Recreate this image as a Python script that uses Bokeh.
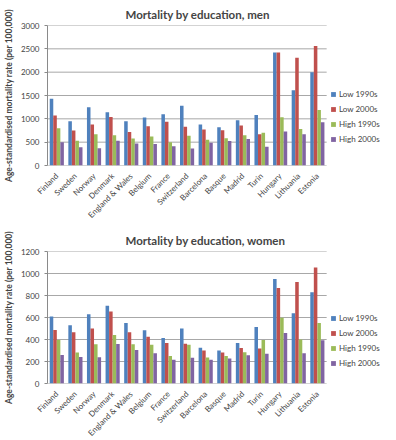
import math
from bokeh.plotting import figure
from bokeh.models import (ColumnDataSource, FixedTicker, Legend, LegendItem, Range1d, FactorRange, Label)
from bokeh.transform import dodge
from bokeh.layouts import column
from bokeh.embed import file_html
from bokeh.resources import INLINE

countries = ["Finland", "Sweden", "Norway", "Denmark", "England & Wales", "Belgium", "France",
             "Switzerland", "Barcelona", "Basque", "Madrid", "Turin", "Hungary", "Lithuania", "Estonia"]
series = ["Low 1990s", "Low 2000s", "High 1990s", "High 2000s"]

men_low_1990s = [1430, 950, 1250, 1140, 950, 1030, 1100, 1280, 880, 820, 970, 1080, 2420, 1610, 2000]
men_low_2000s = [1070, 750, 880, 1040, 720, 840, 940, 830, 770, 755, 855, 670, 2420, 2310, 2560]
men_high_1990s = [800, 530, 670, 650, 580, 620, 500, 640, 550, 585, 650, 700, 1035, 780, 1190]
men_high_2000s = [500, 390, 370, 530, 470, 460, 410, 365, 485, 525, 570, 400, 730, 670, 925]
men_ticks = [0, 500, 1000, 1500, 2000, 2500, 3000]

women_low_1990s = [610, 530, 630, 707, 550, 484, 413, 501, 325, 299, 368, 513, 949, 638, 829]
women_low_2000s = [487, 467, 501, 655, 467, 424, 368, 362, 299, 282, 322, 319, 869, 923, 1054]
women_high_1990s = [396, 282, 356, 442, 356, 353, 251, 353, 236, 251, 285, 396, 598, 399, 550]
women_high_2000s = [259, 242, 239, 359, 305, 274, 217, 234, 217, 228, 256, 271, 459, 274, 393]
women_ticks = [0, 200, 400, 600, 800, 1000, 1200]

colors = ["#4F81BD", "#C0504D", "#9BBB59", "#8064A2"]
FONT = "Lato"
FRAME_W = 335
LEFT = 40
legend_space = [" ", "  ", "   "]   # empty slots at the right of the frame that hold the legend


def make_panel(title, letter, vals, ticks, frame_h, leg_y):
    src = ColumnDataSource(dict(country=countries, s0=vals[0], s1=vals[1], s2=vals[2], s3=vals[3]))
    xr = FactorRange(*(countries + legend_space))
    p = figure(x_range=xr, y_range=Range1d(ticks[0], ticks[-1]), frame_width=FRAME_W, frame_height=frame_h,
               output_backend="svg", toolbar_location=None, title=title,
               min_border_left=LEFT, min_border_right=2, min_border_top=2)
    # horizontal grid lines, only under the country groups
    gsrc = ColumnDataSource(dict(x0=[countries[0]] * len(ticks), x1=[countries[-1]] * len(ticks), y=ticks))
    p.segment(x0=dodge("x0", -0.5, range=xr), x1=dodge("x1", 0.5, range=xr), y0="y", y1="y",
              source=gsrc, line_color="#A8A8A8", line_width=1)
    offs = [-0.285, -0.095, 0.095, 0.285]
    items = []
    for i, key in enumerate(["s0", "s1", "s2", "s3"]):
        r = p.vbar(x=dodge("country", offs[i], range=xr), top=key, width=0.19, source=src,
                   fill_color=colors[i], line_color=None)
        items.append(LegendItem(label=series[i], renderers=[r]))
    leg = Legend(items=items, location=(FRAME_W - 52, leg_y))
    leg.label_text_font = FONT
    leg.label_text_font_size = "8px"
    leg.glyph_width = 6
    leg.glyph_height = 6
    leg.label_height = 10
    leg.label_standoff = 3
    leg.spacing = 5
    leg.padding = 0
    leg.margin = 0
    leg.border_line_color = None
    leg.background_fill_alpha = 0
    p.add_layout(leg)
    p.title.text_font = FONT
    p.title.text_font_size = "11.5px"
    p.title.align = "left"
    p.title.offset = 78
    p.outline_line_color = None
    p.yaxis.ticker = FixedTicker(ticks=ticks)
    p.yaxis.axis_label = "Age-standardised mortality rate (per 100,000)"
    p.yaxis.axis_label_text_font = FONT
    p.yaxis.axis_label_text_font_size = "8.5px"
    p.yaxis.axis_label_text_font_style = "bold"
    p.yaxis.axis_label_standoff = 4
    p.yaxis.major_label_text_font = FONT
    p.xaxis.major_label_text_font = FONT
    p.yaxis.major_label_text_font_size = "8px"
    p.xaxis.major_label_text_font_size = "8px"
    p.xaxis.major_label_orientation = math.pi / 4
    p.xaxis.major_label_standoff = 3
    p.xaxis.major_tick_line_color = None
    p.xaxis.axis_line_color = None
    p.yaxis.axis_line_color = "#8A8A8A"
    p.yaxis.major_tick_line_color = "#8A8A8A"
    p.yaxis.major_tick_in = 0
    p.yaxis.major_tick_out = 3
    p.yaxis.minor_tick_line_color = None
    p.xgrid.grid_line_color = None
    p.ygrid.grid_line_color = None
    # panel letter, placed left of the y axis and above the frame
    px_per_unit = FRAME_W / len(xr.factors)
    lab = Label(x=-(LEFT - 1) / px_per_unit, y=ticks[-1] * (1 + 10 / frame_h), text=letter,
                text_font=FONT, text_font_size="9px", text_color="#333333", text_baseline="middle")
    p.add_layout(lab)
    return p


p1 = make_panel("Mortality by education, men", "A",
                [men_low_1990s, men_low_2000s, men_high_1990s, men_high_2000s], men_ticks, 140, 21)
p2 = make_panel("Mortality by education, women", "B",
                [women_low_1990s, women_low_2000s, women_high_1990s, women_high_2000s], women_ticks, 132, 15)
p = column(p1, p2)
open("out.html", "w").write(file_html(p, INLINE))
